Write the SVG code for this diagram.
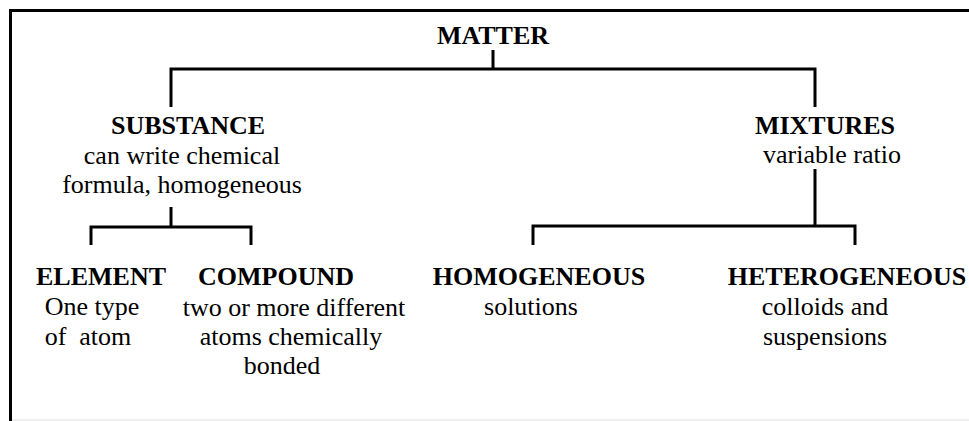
<svg xmlns="http://www.w3.org/2000/svg" width="969" height="421" viewBox="0 0 969 421">
<style>
text{font-family:'Liberation Serif',Tinos,'Times New Roman','DejaVu Serif',serif;font-size:26px;fill:#000;text-anchor:middle}
.b{font-weight:bold}
.c{fill:none;stroke:#000;stroke-width:3}
</style>
<rect width="969" height="421" fill="#fff"/>
<g id="frame">
<path class="c" d="M10.5 421 V10.5 H969"/>
<line x1="12" y1="420" x2="969" y2="420" stroke="#dcdcdc" stroke-width="1"/>
</g>
<g id="connectors">
<path class="c" d="M493 50 V69 M171 107 V69 H815 V107"/>
<path class="c" d="M171 207 V227 M91 245 V227 H251 V245"/>
<path class="c" d="M815 169 V226 M533 245 V226 H855 V245"/>
</g>
<g id="matter"><text class="b" x="493" y="44" font-family="Liberation Serif, serif">MATTER</text></g>
<g id="substance">
<text class="b" x="188" y="134">SUBSTANCE</text>
<text x="182" y="164">can write chemical</text>
<text x="182" y="193">formula, homogeneous</text>
</g>
<g id="mixtures">
<text class="b" x="825" y="134">MIXTURES</text>
<text x="832" y="163">variable ratio</text>
</g>
<g id="element">
<text class="b" x="101" y="285">ELEMENT</text>
<text x="92" y="315">One type</text>
<text x="88" y="345" xml:space="preserve">of  atom</text>
</g>
<g id="compound">
<text class="b" x="276" y="285">COMPOUND</text>
<text x="294" y="316">two or more different</text>
<text x="291" y="345">atoms chemically</text>
<text x="282" y="374">bonded</text>
</g>
<g id="homogeneous">
<text class="b" x="539" y="285">HOMOGENEOUS</text>
<text x="531" y="315">solutions</text>
</g>
<g id="heterogeneous">
<text class="b" x="847" y="285">HETEROGENEOUS</text>
<text x="825" y="315">colloids and</text>
<text x="825" y="345">suspensions</text>
</g>
</svg>
